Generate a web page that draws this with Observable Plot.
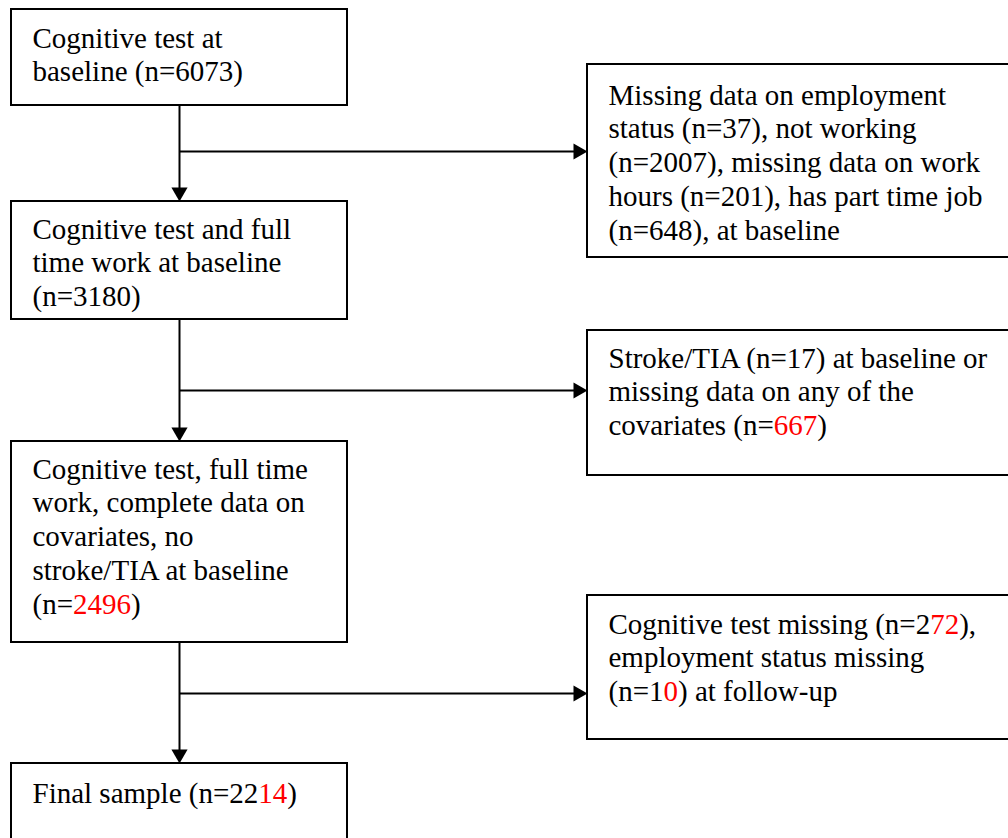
<!DOCTYPE html>
<html>
<head>
<meta charset="utf-8">
<script src="https://cdn.jsdelivr.net/npm/d3@7"></script>
<script src="https://cdn.jsdelivr.net/npm/@observablehq/plot@0.6"></script>
<style>
  html, body { margin: 0; padding: 0; background: #fff; }
  #chart svg { display: block; }
</style>
</head>
<body>
<div id="chart"></div>
<script>
// ---- Content (text in [brackets] is drawn in red) ----
const mainSteps = [
  "Cognitive test at\nbaseline (n=6073)",
  "Cognitive test and full\ntime work at baseline\n(n=3180)",
  "Cognitive test, full time\nwork, complete data on\ncovariates, no\nstroke/TIA at baseline\n(n=[2496])",
  "Final sample (n=22[14])"
];
const exclusions = [
  "Missing data on employment\nstatus (n=37), not working\n(n=2007), missing data on work\nhours (n=201), has part time job\n(n=648), at baseline",
  "Stroke/TIA (n=17) at baseline or\nmissing data on any of the\ncovariates (n=[667])",
  "Cognitive test missing (n=2[72]),\nemployment status missing\n(n=1[0]) at follow-up"
];

// ---- Layout (pixel grid of the flowchart) ----
const W = 1008, H = 838;
const mainCol = {x1: 11, x2: 347, textX: 32, trunkX: 179};
const sideCol = {x1: 587, x2: 1014, textX: 608};
const mainTop = [9, 201, 441, 763];
const mainBottom = [105, 319, 642, 860];
const mainBaseline = [47, 238, 478, 802];
const sideTop = [64, 330, 595];
const sideBottom = [257, 475, 739];
const sideBaseline = [104, 367, 633];
const branchY = [151, 390, 693];

const FS = 29, LH = 34 / 29, HEAD = 14;

const mainBoxes = mainSteps.map((t, i) => ({
  x1: mainCol.x1, x2: mainCol.x2, y1: mainTop[i], y2: mainBottom[i],
  tx: mainCol.textX, ty: mainBaseline[i] - 0.71 * LH * FS, text: t
}));
const sideBoxes = exclusions.map((t, i) => ({
  x1: sideCol.x1, x2: sideCol.x2, y1: sideTop[i], y2: sideBottom[i],
  tx: sideCol.textX, ty: sideBaseline[i] - 0.71 * LH * FS, text: t
}));
const boxes = [...mainBoxes, ...sideBoxes];

// connectors
const trunks = d3.range(3).map(i => ({x1: mainCol.trunkX, y1: mainBottom[i], x2: mainCol.trunkX, y2: mainTop[i + 1] - HEAD + 1}));
const branches = branchY.map(y => ({x1: mainCol.trunkX, y1: y, x2: sideCol.x1 - HEAD + 1, y2: y}));
const heads = [
  ...d3.range(3).map(i => ({x: mainCol.trunkX, y: mainTop[i + 1] - HEAD * 2 / 3, rot: 180})),
  ...branchY.map(y => ({x: sideCol.x1 - HEAD * 2 / 3, y, rot: 90}))
];
// triangle with height HEAD: d3 symbol size = 3*sqrt(3)*(HEAD/3)^2, r = sqrt(size/pi)
const headR = Math.sqrt(3 * Math.sqrt(3) * (HEAD / 3) ** 2 / Math.PI);

const chart = Plot.plot({
  width: W, height: H, margin: 0,
  x: {domain: [0, W], range: [0, W], axis: null},
  y: {domain: [0, H], range: [0, H], axis: null},
  style: {fontFamily: "'Liberation Serif', 'Times New Roman', serif", background: "white"},
  marks: [
    Plot.link([...trunks, ...branches], {x1: "x1", y1: "y1", x2: "x2", y2: "y2", stroke: "black", strokeWidth: 2}),
    Plot.dot(heads, {x: "x", y: "y", symbol: "triangle", r: headR, rotate: "rot", fill: "black", stroke: "none"}),
    Plot.rect(boxes, {x1: "x1", x2: "x2", y1: "y1", y2: "y2", fill: "white", stroke: "black", strokeWidth: 2}),
    Plot.text(boxes, {x: "tx", y: "ty", text: "text", textAnchor: "start", lineAnchor: "top",
      lineHeight: LH, fontSize: FS, fill: "black", fontFamily: "'Liberation Serif', 'Times New Roman', serif"})
  ]
});

// colour the bracketed parts red
chart.querySelectorAll("text, tspan").forEach(node => {
  Array.from(node.childNodes).forEach(child => {
    if (child.nodeType !== 3 || !child.textContent.includes("[")) return;
    const parts = child.textContent.split(/(\[[^\]]*\])/);
    const frag = document.createDocumentFragment();
    parts.forEach(p => {
      if (!p) return;
      if (p.startsWith("[")) {
        const ts = document.createElementNS("http://www.w3.org/2000/svg", "tspan");
        ts.setAttribute("fill", "red");
        ts.textContent = p.slice(1, -1);
        frag.appendChild(ts);
      } else {
        frag.appendChild(document.createTextNode(p));
      }
    });
    node.replaceChild(frag, child);
  });
});

document.getElementById("chart").appendChild(chart);
</script>
</body>
</html>
